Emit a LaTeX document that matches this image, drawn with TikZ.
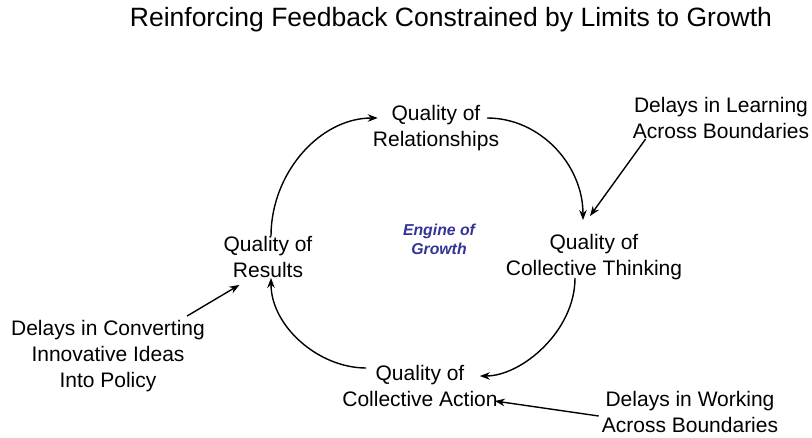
\documentclass[tikz,border=0pt]{standalone}
\usepackage{fontspec}
\setmainfont{Liberation Sans}
\usetikzlibrary{arrows.meta,calc}
\definecolor{engineblue}{RGB}{52,52,150}
\begin{document}
\begin{tikzpicture}[x=1pt,y=-1pt,
  lbl/.style={align=center,inner sep=0pt,font=\fontsize{21}{26}\selectfont},
  link/.style={line width=1.4pt,-{Stealth[length=10pt,width=7.5pt]}}]
\useasboundingbox (0,0) rectangle (812,437);
\node[inner sep=0pt,font=\fontsize{26.5}{32}\selectfont] (title) at (451,20) {Reinforcing Feedback Constrained by Limits to Growth};
\node[lbl] (rel) at (436,128) {Quality of\\Relationships};
\node[lbl] (think) at (594,257) {Quality of\\Collective Thinking};
\node[lbl] (res) at (268,257) {Quality of\\Results};
\node[lbl] (act) at (420,386) {Quality of\\Collective Action};
\node[align=center,inner sep=0pt,text=engineblue,font=\fontsize{15.8}{19}\selectfont\bfseries\itshape] (engine) at (439,239) {Engine of\\Growth};
\node[lbl] (dl) at (721,118) {Delays in Learning\\Across Boundaries};
\node[lbl] (dc) at (108,356) {Delays in Converting\\Innovative Ideas\\Into Policy};
\node[lbl] (dw) at (690,412) {Delays in Working\\Across Boundaries};
% loop
\draw[link] ($(res.north)+(3,0)$) .. controls +(0,-63) and +(-58,0) .. ($(rel.west)+(5,-10)$);
\draw[link] ($(rel.east)+(-12,-10)$) .. controls +(53,0) and +(0,-55) .. ($(think.north)+(-11,-14)$);
\draw[link] ($(think.south)+(-19,-2)$) .. controls +(0,53) and +(42,0) .. ($(act.east)+(-18,-10)$);
\draw[link] ($(act.west)+(24,-18)$) .. controls +(-48,0) and +(0,48) .. ($(res.south)+(3,0)$);
% delays
\draw[link] ($(dl.south west)+(13,0)$) -- ($(think.north)+(-4,-18)$);
\draw[link] ($(dc.north east)+(-18,-4)$) -- ($(res.south west)+(16,7)$);
\draw[link] ($(dw.west)+(-3,4)$) -- ($(act.east)+(-3,15)$);
\end{tikzpicture}
\end{document}
